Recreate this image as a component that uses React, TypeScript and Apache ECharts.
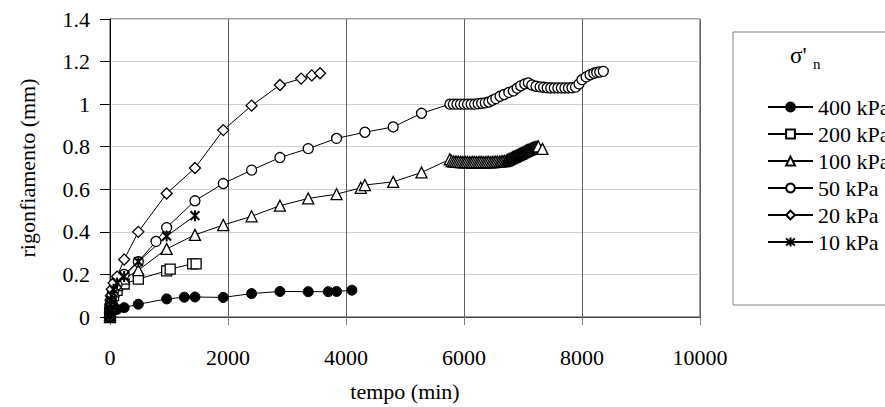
import React, { useEffect, useRef } from "react";
import * as echarts from "echarts";

const FONT = "Liberation Serif, Times New Roman, serif";

const xTicks = { min: 0, max: 10000, interval: 2000 };
const yTicks = { min: 0, max: 1.4, interval: 0.2 };

const seriesNames = ["400 kPa", "200 kPa", "100 kPa", "50 kPa", "20 kPa", "10 kPa"];

const s400: [number, number][] = [[0,0],[0.5,0.004],[1,0.006],[2,0.009],[4,0.012],[8,0.016],[15,0.02],[30,0.025],[60,0.03],[120,0.036],[240,0.044],[480,0.06],[960,0.085],[1260,0.093],[1440,0.094],[1920,0.092],[2400,0.11],[2880,0.12],[3360,0.119],[3700,0.119],[3840,0.12],[4100,0.126]];

const s200: [number, number][] = [[0,0],[0.5,0.01],[1,0.015],[2,0.02],[4,0.03],[8,0.045],[15,0.06],[30,0.08],[60,0.1],[120,0.125],[240,0.155],[480,0.178],[960,0.217],[1020,0.225],[1400,0.25],[1460,0.25]];

const s100: [number, number][] = [[0,0],[0.5,0.01],[1,0.02],[2,0.03],[4,0.04],[8,0.055],[15,0.07],[30,0.09],[60,0.12],[120,0.15],[240,0.18],[480,0.22],[960,0.32],[1440,0.386],[1920,0.432],[2400,0.473],[2880,0.523],[3360,0.557],[3840,0.577],[4250,0.607],[4320,0.62],[4800,0.635],[5280,0.679],[5760,0.741],
[5790,0.733],[5820,0.731],[5850,0.73],[5880,0.729],[5910,0.729],[5940,0.728],[5970,0.728],[6000,0.727],[6030,0.728],[6060,0.728],[6090,0.727],[6120,0.727],[6150,0.728],[6180,0.728],[6210,0.727],[6240,0.727],[6270,0.728],[6300,0.728],[6330,0.727],[6360,0.727],[6390,0.728],[6420,0.728],[6450,0.727],[6480,0.728],[6510,0.728],[6540,0.729],[6570,0.729],[6600,0.73],[6630,0.731],[6660,0.732],[6690,0.733],[6720,0.735],
[6740,0.738],[6760,0.741],[6780,0.744],[6800,0.746],[6820,0.749],[6840,0.752],[6860,0.754],[6880,0.757],[6900,0.76],[6920,0.762],[6940,0.765],[6960,0.767],[6980,0.77],[7000,0.773],[7020,0.776],[7040,0.779],[7060,0.782],[7080,0.784],[7100,0.786],[7120,0.789],[7140,0.791],[7160,0.793],[7180,0.795],[7200,0.797],[7220,0.799],[7240,0.8],[7260,0.801],[7330,0.79]];

const s50: [number, number][] = [[0,0],[0.5,0.01],[1,0.02],[2,0.03],[4,0.045],[8,0.06],[15,0.08],[30,0.1],[60,0.12],[120,0.15],[240,0.2],[480,0.26],[780,0.355],[960,0.42],[1440,0.546],[1920,0.627],[2400,0.69],[2880,0.749],[3360,0.791],[3840,0.839],[4320,0.868],[4800,0.893],[5280,0.957],[5760,1.0],[5820,1.0],[5880,1.0],[5940,1.0],[6000,1.0],[6060,1.0],[6120,1.0],[6180,1.0],[6240,1.002],[6300,1.004],[6360,1.006],[6420,1.01],[6480,1.018],[6540,1.026],[6610,1.037],[6680,1.045],[6760,1.055],[6836,1.062],[6900,1.075],[6960,1.086],[7030,1.095],[7090,1.1],[7150,1.09],[7220,1.084],[7290,1.081],[7350,1.079],[7410,1.077],[7470,1.076],[7530,1.076],[7590,1.076],[7650,1.076],[7710,1.076],[7770,1.076],[7830,1.077],[7890,1.08],[7950,1.095],[8000,1.115],[8070,1.128],[8136,1.138],[8200,1.145],[8249,1.149],[8300,1.151],[8361,1.154]];

const s20: [number, number][] = [[0,0],[0.5,0.02],[1,0.03],[2,0.045],[4,0.06],[8,0.08],[15,0.1],[30,0.13],[60,0.16],[120,0.19],[240,0.27],[480,0.4],[960,0.58],[1440,0.7],[1920,0.878],[2400,0.993],[2880,1.09],[3240,1.12],[3420,1.135],[3560,1.145]];

const s10: [number, number][] = [[0,0],[0.5,0.01],[1,0.02],[2,0.03],[4,0.04],[8,0.06],[15,0.08],[30,0.1],[60,0.13],[120,0.16],[240,0.19],[480,0.26],[960,0.38],[1440,0.476]];

const STAR = "path://M5,0 L5,10 M1,1 L9,9 M1,9 L9,1";

function mk(name: string, data: [number, number][], symbol: string, size: number, fill: string, bw: number) {
  return {
    type: "line",
    name,
    data,
    symbol,
    symbolSize: size,
    symbolKeepAspect: true,
    showAllSymbol: true,
    lineStyle: { color: "#000", width: 1 },
    itemStyle: { color: fill, borderColor: "#000", borderWidth: bw },
    emphasis: { disabled: true },
  };
}

export default function App() {
  const ref = useRef<HTMLDivElement>(null);
  useEffect(() => {
    const chart = echarts.init(ref.current!, null, { renderer: "svg" });
    const txt = { fontFamily: FONT, fontSize: 22, color: "#000" };
    chart.setOption({
      animation: false,
      backgroundColor: "#fff",
      textStyle: { fontFamily: FONT },
      grid: { left: 110, right: 185, top: 19, bottom: 88, show: true, borderColor: "#404040", borderWidth: 1 },
      xAxis: {
        type: "value",
        ...xTicks,
        name: "tempo (min)",
        nameLocation: "middle",
        nameGap: 63,
        nameTextStyle: txt,
        axisLine: { show: true, lineStyle: { color: "#404040", width: 1 } },
        axisTick: { show: true, length: 8, lineStyle: { color: "#808080" } },
        axisLabel: { ...txt, margin: 29, formatter: (v: number) => String(v) },
        splitLine: { show: true, lineStyle: { color: "#606060", width: 1 } },
      },
      yAxis: {
        type: "value",
        ...yTicks,
        name: "rigonfiamento (mm)",
        nameLocation: "middle",
        nameGap: 72,
        nameTextStyle: txt,
        axisLine: { show: true, lineStyle: { color: "#000", width: 1 } },
        axisTick: { show: true, length: 10, lineStyle: { color: "#000" } },
        axisLabel: { ...txt, margin: 20 },
        splitLine: { show: true, lineStyle: { color: "#d0d0d0", width: 1 } },
      },
      legend: {
        orient: "vertical",
        left: 733,
        top: 32,
        padding: [64, 40, 52, 34],
        itemWidth: 45,
        itemHeight: 11,
        itemGap: 5,
        borderColor: "#808080",
        borderWidth: 1,
        selectedMode: false,
        textStyle: txt,
        data: seriesNames,
      },
      graphic: [
        { type: "text", left: 790, top: 44, style: { text: "σ'", font: `23px ${FONT}`, fill: "#000" } },
        { type: "text", left: 813, top: 56, style: { text: "n", font: `15px ${FONT}`, fill: "#000" } },
      ],
      series: [
        mk(seriesNames[0], s400, "circle", 10, "#000", 1),
        mk(seriesNames[1], s200, "rect", 10, "#fff", 1.3),
        mk(seriesNames[2], s100, "triangle", 11, "#fff", 1.3),
        mk(seriesNames[3], s50, "circle", 10, "#fff", 1.3),
        mk(seriesNames[4], s20, "diamond", 11, "#fff", 1.3),
        mk(seriesNames[5], s10, STAR, 11, "#000", 2),
      ],
    });
    return () => chart.dispose();
  }, []);
  return <div ref={ref} style={{ position: "fixed", left: 0, top: 0, width: 885, height: 407, background: "#fff" }} />;
}
